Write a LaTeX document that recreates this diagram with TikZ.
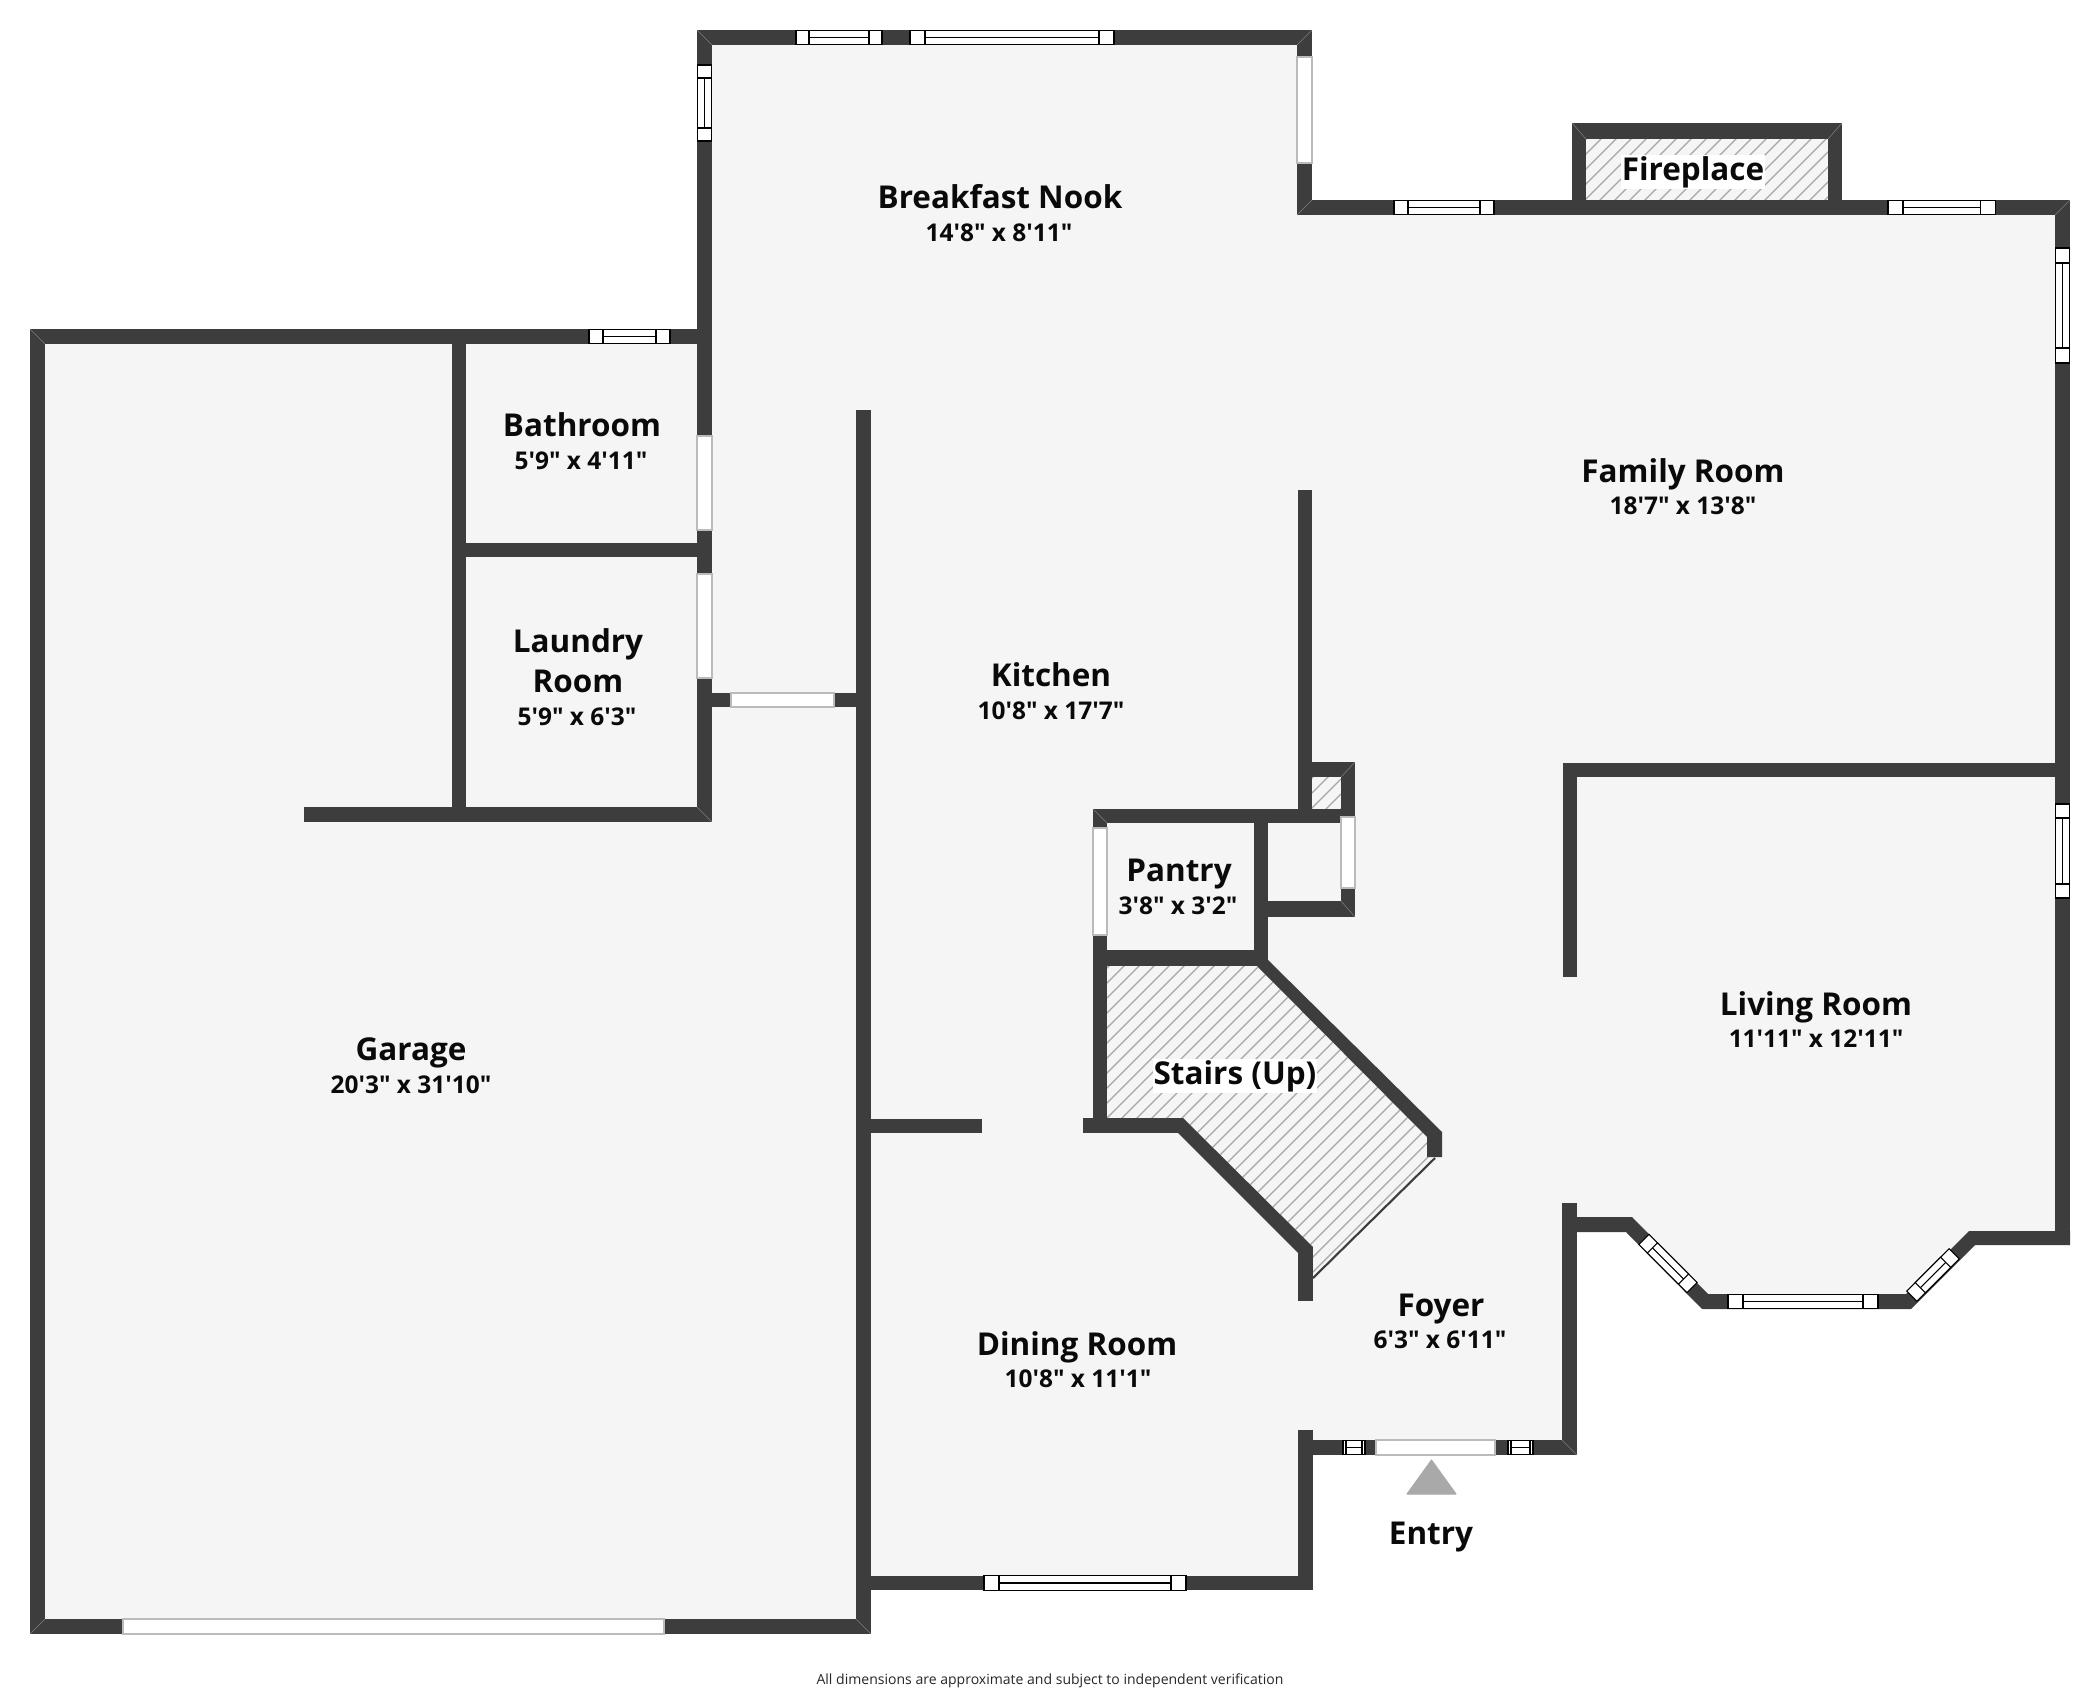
\documentclass[tikz,border=0pt]{standalone}
\usepackage{fontspec}
\setmainfont{Open Sans}[Ligatures=TeXOff]
\usetikzlibrary{positioning}
\definecolor{wallgray}{HTML}{3D3D3D}
\definecolor{floorgray}{HTML}{F5F5F5}
\definecolor{hatchgray}{HTML}{A6A6A6}
\definecolor{doorgray}{HTML}{BBBBBB}
\definecolor{entrygray}{HTML}{A9A9A9}
\definecolor{labelblack}{HTML}{0A0A0A}
\tikzset{
  wall/.style={fill=wallgray},
  floorplate/.style={fill=floorgray},
  hatchline/.style={hatchgray,line width=0.38pt},
  doorway/.style={fill=white,draw=doorgray,line width=0.4pt},
  seam/.style={draw=gray,line width=0.15pt},
  roomname/.style={font=\fontsize{8.95}{11.4}\selectfont\bfseries,text=labelblack,inner sep=1pt,align=center},
  roomsize/.style={font=\fontsize{6.95}{9}\selectfont\bfseries,text=labelblack,inner sep=1pt},
  hatchlabel/.style={roomname,fill=white,inner sep=0.3pt},
  winline/.style={draw=black,line width=0.3pt,fill=white},
  pics/casement/.style 2 args={code={
    \draw[winline] (-#1/2,-7.2) rectangle (#1/2,7.2);
    \draw[winline] (-#1/2+#2,-7.2) rectangle (#1/2-#2,7.2);
    \draw[winline] (-#1/2+#2,0) -- (#1/2-#2,0);
  }}
}
\begin{document}
\begin{tikzpicture}[x=0.01cm,y=-0.01cm]
  \useasboundingbox (0,0) rectangle (2100,1694);
  % floor
  \fill[floorplate] (30,329) -- (697,329) -- (697,30) -- (1312,30) -- (1312,200) -- (1572,200)
    -- (1572,123) -- (1842,123) -- (1842,200) -- (2070,200) -- (2070,1245) -- (1975,1245)
    -- (1911,1309) -- (1702,1309) -- (1626,1232) -- (1577,1232) -- (1577,1455) -- (1313,1455)
    -- (1313,1590) -- (871,1590) -- (871,1634) -- (30,1634) -- cycle;
  % hatching
  \begin{scope}
    \clip (1107,966) -- (1257,966) -- (1427,1137) -- (1427,1157) -- (1435,1157) -- (1313,1278)
      -- (1313,1247) -- (1183,1118) -- (1107,1118) -- cycle;
    \foreach \c in {2075,2090,...,2600}
      \draw[hatchline] (1000,\c-1000) -- (1500,\c-1500);
  \end{scope}
  \begin{scope}
    \clip (1586,139) rectangle (1828,200);
    \foreach \c in {1725,1740,...,2040}
      \draw[hatchline] (1500,\c-1500) -- (1900,\c-1900);
  \end{scope}
  \begin{scope}
    \clip (1312,777) rectangle (1341,809);
    \foreach \c in {2090,2105,...,2150}
      \draw[hatchline] (1300,\c-1300) -- (1350,\c-1350);
  \end{scope}
  \draw[wallgray,line width=0.6pt] (1435,1158) -- (1313,1278);
  % straight walls
  \foreach \xa/\ya/\xb/\yb in {
    697/30/1312/45, 697/30/712/822, 1297/30/1312/215, 1297/200/2070/215,
    1572/123/1586/215, 1828/123/1842/215, 1572/123/1842/139, 2055/200/2070/1245,
    1563/763/2070/777, 1563/763/1577/977, 1562/1203/1577/1455, 1298/1440/1577/1455,
    1298/1430/1313/1590, 856/1576/1313/1590, 30/1619/871/1634, 30/329/45/1634,
    30/329/712/344, 452/329/466/822, 452/543/712/557, 304/807/712/822,
    856/410/871/1634, 697/693/871/707, 856/1119/982/1133, 1298/490/1312/823,
    1298/762/1355/777, 1341/762/1355/917, 1093/809/1355/823, 1093/809/1107/1133,
    1254/809/1268/966, 1093/950/1268/966, 1254/901/1355/917, 1083/1118/1183/1133,
    1298/1247/1313/1301}
    \fill[wall] (\xa,\ya) rectangle (\xb,\yb);
  % slanted walls
  \fill[wall] (1183,1118) -- (1313,1247) -- (1298,1253) -- (1178,1133) -- cycle;
  \fill[wall] (1268,960) -- (1442,1132) -- (1442,1157) -- (1427,1157) -- (1427,1137) -- (1257,966) -- cycle;
  \fill[wall] (1577,1217) -- (1632,1217) -- (1708,1294) -- (1906,1294) -- (1969,1231) -- (2070,1231)
    -- (2070,1245) -- (1975,1245) -- (1911,1309) -- (1702,1309) -- (1626,1232) -- (1577,1232) -- cycle;
  % corner seams
  \foreach \xa/\ya/\xb/\yb in {
    697/30/712/45, 1312/30/1297/45, 1297/215/1312/200, 2070/200/2055/215,
    30/1634/45/1619, 871/1634/856/1619, 712/822/697/807, 1577/1455/1562/1440,
    1572/123/1586/139, 1842/123/1828/139, 30/329/45/344, 1093/809/1107/823,
    1355/917/1341/901, 1355/762/1341/777}
    \draw[seam] (\xa,\ya) -- (\xb,\yb);
  % doors
  \foreach \xa/\ya/\xb/\yb in {
    1297/57/1312/163, 697/436/712/530, 697/574/712/678, 731/693/834/707,
    1093/828/1107/935, 1341/817/1355/888, 1376/1440/1495/1455, 123/1619/664/1634}
    \draw[doorway] (\xa,\ya) rectangle (\xb,\yb);
  % windows
  \pic at (839,37.5) {casement={86}{13}};
  \pic at (1012,37.5) {casement={204}{15}};
  \pic[rotate=90] at (704.5,103) {casement={76}{13}};
  \pic at (629.5,336.5) {casement={81}{14}};
  \pic at (1444,207.5) {casement={100}{14}};
  \pic at (1941.5,207.5) {casement={107}{15}};
  \pic[rotate=90] at (2062.5,305.5) {casement={115}{15}};
  \pic[rotate=90] at (2062.5,851) {casement={94}{14}};
  \pic at (1085,1583) {casement={202}{15}};
  \pic at (1803,1301.5) {casement={150}{15}};
  \pic[rotate=-45] at (1668,1263.5) {casement={68}{12}};
  \pic[rotate=45] at (1933,1275) {casement={60}{12}};
  \pic at (1354,1447.5) {casement={22}{3}};
  \pic at (1520.5,1447.5) {casement={25}{3}};
  % entry marker
  \fill[entrygray,draw=entrygray,line width=0.3pt,line join=round] (1431.5,1460) -- (1456,1494) -- (1407,1494) -- cycle;
  % labels
  \node[roomname] (nook) at (1000,197) {Breakfast Nook};
  \node[roomsize] (nooksize) at (999,233) {14'8" x 8'11"};
  \node[hatchlabel] (fireplace) at (1693,172) {Fireplace};
  \node[roomname] (family) at (1683,474) {Family Room};
  \node[roomsize] (familysize) at (1683,506) {18'7" x 13'8"};
  \node[roomname] (bath) at (582,425) {Bathroom};
  \node[roomsize] (bathsize) at (581,461) {5'9" x 4'11"};
  \node[roomname] (laundry) at (578,661) {Laundry\\Room};
  \node[roomsize] (laundrysize) at (577,717) {5'9" x 6'3"};
  \node[roomname] (kitchen) at (1051,675) {Kitchen};
  \node[roomsize] (kitchensize) at (1051,711) {10'8" x 17'7"};
  \node[roomname] (pantry) at (1179,874) {Pantry};
  \node[roomsize] (pantrysize) at (1178,906) {3'8" x 3'2"};
  \node[hatchlabel] (stairs) at (1235,1076) {Stairs (Up)};
  \node[roomname] (living) at (1816,1007) {Living Room};
  \node[roomsize] (livingsize) at (1816,1039) {11'11" x 12'11"};
  \node[roomname] (garage) at (411,1053) {Garage};
  \node[roomsize] (garagesize) at (411,1085) {20'3" x 31'10"};
  \node[roomname] (dining) at (1077,1347) {Dining Room};
  \node[roomsize] (diningsize) at (1078,1379) {10'8" x 11'1"};
  \node[roomname] (foyer) at (1441,1309) {Foyer};
  \node[roomsize] (foyersize) at (1440,1340) {6'3" x 6'11"};
  \node[roomname] (entry) at (1431,1537) {Entry};
  \node[font=\fontsize{3.99}{5}\selectfont,text=black!85,inner sep=0pt] (disclaimer) at (1050,1681)
    {All dimensions are approximate and subject to independent verification};
\end{tikzpicture}
\end{document}
